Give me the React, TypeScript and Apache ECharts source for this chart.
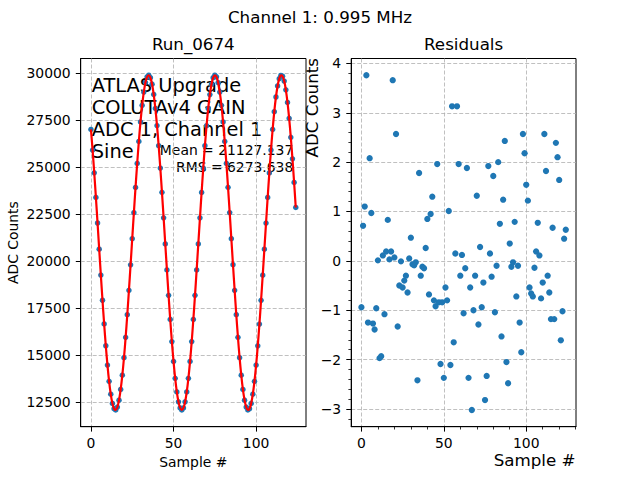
import React, { useEffect, useRef } from "react";
import * as echarts from "echarts";

const suptitle = "Channel 1: 0.995 MHz";
const leftTitle = "Run_0674";
const rightTitle = "Residuals";
const infoLines = ["ATLAS Upgrade", "COLUTAv4 GAIN", "ADC 1, Channel 1", "Sine"];
const meanText = "Mean = 21127.137";
const rmsText = "RMS = 6273.638";
const xName = "Sample #";
const yName = "ADC Counts";

const adcCounts = [
  27018, 25920, 24704, 23395, 22030, 20637, 19255, 17913, 16648, 15488,
  14460, 13594, 12907, 12417, 12136, 12070, 12222, 12588, 13158, 13920,
  14850, 15935, 17141, 18442, 19803, 21195, 22581, 23927, 25202, 26375,
  27417, 28300, 29005, 29515, 29818, 29905, 29775, 29431, 28879, 28137,
  27221, 26151, 24955, 23664, 22306, 20917, 19529, 18178, 16893, 15710,
  14655, 13754, 13029, 12499, 12175, 12066, 12175, 12498, 13028, 13753,
  14655, 15709, 16892, 18174, 19528, 20915, 22304, 23661, 24955, 26148,
  27217, 28135, 28878, 29429, 29774, 29905, 29818, 29516, 29006, 28300,
  27417, 26375, 25203, 23930, 22583, 21197, 19806, 18445, 17145, 15939,
  14853, 13921, 13160, 12590, 12223, 12070, 12136, 12417, 12905, 13592,
  14457, 15482, 16645, 17911, 19252, 20635, 22027, 23394, 24700, 25918,
  27014, 27964, 28745, 29335, 29722, 29896, 29853, 29594, 29125, 28457,
  27607, 26594, 25449, 24192, 22857,
];

const residuals = [
  -0.94, 0.71, 1.1, 3.76, -1.25, 2.08, 0.97, -1.27, -1.39, -0.96,
  0.01, -1.97, -1.93, 0.11, -1.08, 0.19, 0.83, 0.03, 0.19, 3.66,
  0.07, 2.57, -1.33, -0.5, -0.01, -0.54, -0.4, -0.3, -0.64, 0.05,
  0.47, -0.07, -0.09, -0.03, -2.42, 1.78, -0.3, -0.12, -0.15, 0.26,
  0.85, -0.68, 0.95, 1.3, -0.8, -0.92, 1.96, -0.84, -2.09, -0.84,
  -2.37, -0.54, -0.8, 1.01, -2.11, 3.13, -1.65, 0.15, 3.13, 1.96,
  -0.3, 0.12, -1.06, -0.15, 1.88, -2.37, -0.54, -3.02, -1.0, -0.3,
  1.32, -1.29, 0.28, -0.94, -0.44, -2.82, -2.33, 1.92, 0.15, -0.32,
  1.72, -1.04, -0.1, 2.0, 0.75, -1.53, 1.24, 2.43, -2.05, -2.48,
  0.35, -0.12, -0.03, 0.79, -0.72, -0.1, -1.25, -1.85, 2.57, 2.18,
  1.54, 1.22, -0.54, -0.66, -0.72, -0.14, 0.19, 0.77, 0.11, -0.76,
  -0.44, 2.57, 1.82, -0.3, -0.64, -1.18, 0.67, -1.18, 2.39, 2.1,
  1.64, -1.61, -1.02, 0.45, 0.63,
];

const xTicks = [0, 50, 100];
const leftYTicks = [12500, 15000, 17500, 20000, 22500, 25000, 27500, 30000];
const rightYTicks = [-3, -2, -1, 0, 1, 2, 3, 4];

const FONT = "DejaVu Sans";
const BLUE = "#1f77b4";

function padded(values: number[]): [number, number] {
  const lo = Math.min(...values);
  const hi = Math.max(...values);
  const m = (hi - lo) * 0.05;
  return [lo - m, hi + m];
}

function txt(x: number, y: number, text: string, size: number, align: string, valign: string, rotation = 0, extra: any = {}) {
  return {
    type: "text",
    x,
    y,
    rotation,
    silent: true,
    style: {
      text,
      fontSize: size,
      fontFamily: FONT,
      fill: "#000",
      align,
      verticalAlign: valign,
      textAlign: align,
      textVerticalAlign: valign,
      ...extra,
    },
  };
}

export default function App() {
  const ref = useRef<HTMLDivElement>(null);

  useEffect(() => {
    if (!ref.current) return;
    const chart = echarts.init(ref.current, undefined, { renderer: "svg" });

    const idx = adcCounts.map((_, i) => i);
    const xr = padded(idx);
    const ylr = padded(adcCounts);
    const yrr = padded(residuals);

    const tickLine = { color: "#000", width: 1 };
    const gridLine = { show: true, lineStyle: { color: "#b0b0b0", width: 0.8, type: [4, 2] } };
    const labelBase = { color: "#000", fontSize: 13.9, fontFamily: FONT };

    const xAxisBase = (gridIndex: number, minor: boolean) => ({
      type: "value",
      gridIndex,
      min: xr[0],
      max: xr[1],
      splitNumber: 3,
      axisLine: { show: true, onZero: false, lineStyle: { color: "#000", width: 1 } },
      axisTick: { show: true, length: 4.9, lineStyle: tickLine, customValues: xTicks },
      axisLabel: { ...labelBase, margin: 9.5, lineHeight: 13, customValues: xTicks, formatter: (v: number) => String(v) },
      minorTick: { show: minor, splitNumber: 5, length: 2.8, lineStyle: { color: "#000", width: 0.8 } },
      splitLine: gridLine,
    });

    const option: any = {
      animation: false,
      backgroundColor: "#fff",
      grid: [
        { left: 80.7, top: 58.5, width: 225.3, height: 368.2, show: true, borderColor: "#000", borderWidth: 1, backgroundColor: "transparent" },
        { left: 351.2, top: 58.5, width: 224.8, height: 368.2, show: true, borderColor: "#000", borderWidth: 1, backgroundColor: "transparent" },
      ],
      xAxis: [xAxisBase(0, false), xAxisBase(1, true)],
      yAxis: [
        {
          type: "value",
          gridIndex: 0,
          min: ylr[0],
          max: ylr[1],
          axisLine: { show: true, onZero: false, lineStyle: { color: "#000", width: 1 } },
          axisTick: { show: true, length: 4.9, lineStyle: tickLine, customValues: leftYTicks },
          axisLabel: { ...labelBase, margin: 10, customValues: leftYTicks, formatter: (v: number) => String(v) },
          splitLine: gridLine,
        },
        {
          type: "value",
          gridIndex: 1,
          min: yrr[0],
          max: yrr[1],
          splitNumber: 7,
          axisLine: { show: true, onZero: false, lineStyle: { color: "#000", width: 1 } },
          axisTick: { show: true, length: 4.9, lineStyle: tickLine, customValues: rightYTicks },
          axisLabel: {
            ...labelBase,
            margin: 10,
            customValues: rightYTicks,
            formatter: (v: number) => String(v).replace("-", "\u2212"),
          },
          minorTick: { show: true, splitNumber: 5, length: 2.8, lineStyle: { color: "#000", width: 0.8 } },
          splitLine: gridLine,
        },
      ],
      series: [
        {
          type: "scatter",
          xAxisIndex: 0,
          yAxisIndex: 0,
          data: adcCounts.map((v, i) => [i, v]),
          symbolSize: 5.5,
          itemStyle: { color: BLUE, opacity: 1 },
          z: 2,
        },
        {
          type: "line",
          xAxisIndex: 0,
          yAxisIndex: 0,
          data: adcCounts.map((v, i) => [i, v]),
          showSymbol: false,
          smooth: 0.4,
          lineStyle: { color: "#ff0000", width: 2.2 },
          z: 3,
        },
        {
          type: "scatter",
          xAxisIndex: 1,
          yAxisIndex: 1,
          data: residuals.map((v, i) => [i, v]),
          symbolSize: 6.3,
          itemStyle: { color: BLUE, opacity: 1 },
          z: 2,
        },
      ],
      graphic: [
        txt(320, 17, suptitle, 16.7, "center", "middle"),
        txt(193.3, 44, leftTitle, 16.7, "center", "middle"),
        txt(463.6, 44, rightTitle, 16.7, "center", "middle"),
        txt(91.7, 74.2, infoLines.join("\n"), 19.4, "left", "top", 0, { lineHeight: 22 }),
        txt(293.3, 150, meanText, 13.9, "right", "middle"),
        txt(293.3, 167.3, rmsText, 13.9, "right", "middle"),
        txt(193.3, 462, xName, 13.9, "center", "middle"),
        txt(12.5, 242.6, yName, 13.9, "center", "middle", Math.PI / 2),
        txt(575.5, 459.5, xName, 16.7, "right", "middle", 0, { lineHeight: 16 }),
        txt(311.5, 58, yName, 16.7, "right", "middle", Math.PI / 2),
      ],
    };

    chart.setOption(option);
    return () => chart.dispose();
  }, []);

  return (
    <div
      ref={ref}
      style={{ position: "fixed", left: 0, top: 0, width: 640, height: 480, background: "#fff" }}
    />
  );
}
